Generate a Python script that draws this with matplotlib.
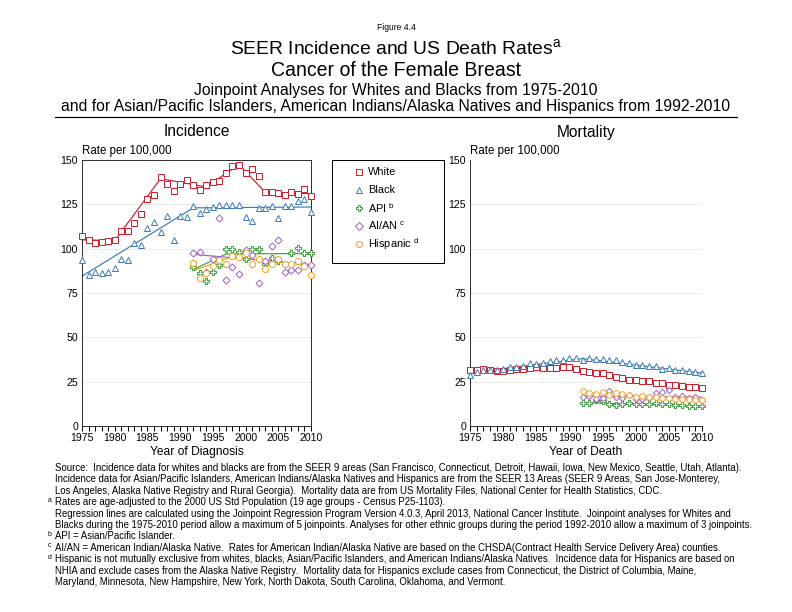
import numpy as np
import matplotlib.pyplot as plt
from matplotlib.lines import Line2D
from matplotlib.patches import Rectangle
from matplotlib.ticker import MultipleLocator

plt.rcParams['font.family'] = ['Liberation Sans', 'DejaVu Sans']
plt.rcParams['mathtext.fontset'] = 'custom'
plt.rcParams['mathtext.rm'] = 'Liberation Sans'
plt.rcParams['mathtext.it'] = 'Liberation Sans'

# years
years_all = np.arange(1975, 2011)
years_eth = np.arange(1992, 2011)

# incidence rates per 100,000
inc_white = [107.0, 104.7, 103.2, 103.8, 104.3, 104.7, 109.8, 110.0, 114.5, 119.6,
             127.8, 130.3, 140.4, 136.5, 132.4, 136.5, 138.5, 136.0, 133.3, 135.9,
             137.4, 138.2, 142.6, 146.6, 147.1, 142.6, 144.9, 141.2, 131.9, 131.9,
             131.4, 130.4, 131.8, 131.0, 133.5, 129.9]
inc_black = [93.5, 85.4, 87.0, 86.0, 86.9, 89.3, 94.2, 93.4, 103.4, 102.1,
             111.8, 115.0, 109.6, 118.5, 105.1, 118.5, 117.7, 124.0, 120.2, 122.5,
             123.3, 124.6, 124.8, 124.8, 124.8, 117.6, 115.6, 123.1, 123.1, 124.1,
             117.3, 124.2, 124.2, 127.0, 128.2, 120.6]
inc_api = [89.7, 86.3, 81.8, 86.9, 90.8, 100.0, 99.7, 98.3, 94.2, 100.0,
           99.7, 91.6, 95.0, 93.1, 91.6, 97.8, 100.6, 97.6, 97.6]
inc_aian = [97.8, 98.2, 86.9, 94.4, 117.3, 82.6, 89.7, 85.6, 99.5, 96.3,
            80.5, 93.1, 101.4, 104.7, 86.9, 88.2, 88.2, 91.0, 91.0]
inc_hisp = [92.1, 83.5, 86.5, 90.3, 93.5, 91.6, 95.7, 95.3, 97.6, 91.6,
            94.4, 88.4, 91.6, 94.4, 91.6, 91.6, 93.1, 90.3, 85.4]

# mortality rates per 100,000
mort_white = [31.5, 31.4, 32.3, 31.8, 30.8, 31.2, 31.8, 32.0, 32.1, 32.7,
              33.0, 32.8, 32.7, 32.8, 33.2, 33.0, 32.4, 31.2, 30.7, 30.1,
              29.8, 28.8, 27.5, 26.9, 25.8, 26.2, 25.3, 25.1, 24.4, 24.0,
              23.4, 23.1, 22.4, 22.1, 21.9, 21.2]
mort_black = [29.0, 30.2, 31.5, 31.7, 31.5, 31.9, 33.2, 33.3, 33.7, 35.8,
              34.9, 35.4, 36.7, 37.4, 37.0, 38.3, 38.3, 37.3, 38.2, 37.8,
              38.0, 37.0, 37.5, 35.9, 35.8, 34.4, 34.5, 34.1, 34.0, 32.3,
              32.7, 31.7, 31.5, 30.8, 30.2, 29.7]
mort_api = [12.8, 12.7, 14.6, 14.2, 12.5, 11.8, 12.3, 12.9, 12.5, 12.3,
            12.6, 12.8, 12.4, 12.2, 12.1, 11.9, 11.4, 11.3, 11.4]
mort_aian = [16.5, 17.0, 15.2, 15.8, 19.8, 16.5, 16.0, 17.6, 15.5, 15.5,
             15.8, 18.8, 19.3, 20.2, 16.2, 17.0, 15.8, 16.2, 14.9]
mort_hisp = [19.5, 18.6, 18.0, 19.2, 17.6, 18.5, 18.3, 17.3, 16.6, 16.8,
             16.2, 16.5, 15.9, 15.6, 15.2, 15.4, 15.2, 14.8, 14.6]

# joinpoint regression lines (joinpoint years, fitted values)
jp_inc_white = ([1975, 1980, 1987, 1994, 1999, 2003, 2010], [105.0, 104.5, 139.5, 134.8, 147.5, 131.8, 131.0])
jp_inc_black = ([1975, 1992, 2010], [84.5, 123.0, 123.5])
jp_inc_api = ([1992, 1997, 2010], [88.2, 97.0, 97.3])
jp_inc_aian = ([1992, 2010], [96.8, 91.0])
jp_inc_hisp = ([1992, 1998, 2010], [87.5, 95.5, 90.5])

jp_mort_white = ([1975, 1990, 1995, 1998, 2010], [31.3, 33.2, 30.0, 27.3, 21.4])
jp_mort_black = ([1975, 1992, 2010], [30.0, 38.0, 29.8])
jp_mort_api = ([1992, 2010], [13.2, 11.3])
jp_mort_aian = ([1992, 2010], [16.8, 16.3])
jp_mort_hisp = ([1992, 2010], [19.0, 14.7])

groups = ['White', 'Black', 'API $^{b}$', 'AI/AN $^{c}$', 'Hispanic $^{d}$']
colors = ['#D21F2B', '#3E7BB6', '#3FA03F', '#A064C4', '#F2A32A']
markers = ['s', '^', 'P', 'D', 'o']

W, H = 792, 612
fig = plt.figure(figsize=(11, 8.5), dpi=72)


def fx(px):
    return px / W


def fy(py):
    return 1 - py / H


ax1 = fig.add_axes([fx(82), fy(426), 229 / W, 266 / H])
ax2 = fig.add_axes([fx(470), fy(426), 232 / W, 266 / H])


def draw_panel(ax, series, lines, msize):
    for i, (x, y) in enumerate(series):
        ms = msize * 0.8 if markers[i] == 'D' else msize
        ax.plot(x, y, linestyle='none', marker=markers[i], markersize=ms, clip_on=False,
                markerfacecolor='white', markeredgecolor=colors[i], markeredgewidth=1.0, zorder=3)
    for i, (lx, ly) in enumerate(lines):
        ax.plot(lx, ly, color=colors[i], linewidth=1.2, zorder=2)
    ax.set_xlim(1975, 2010)
    ax.set_ylim(0, 150)
    ax.xaxis.set_major_locator(MultipleLocator(5))
    ax.xaxis.set_minor_locator(MultipleLocator(1))
    ax.yaxis.set_major_locator(MultipleLocator(25))
    ax.tick_params(axis='x', which='both', direction='out', length=5, width=1, labelsize=10.5, pad=2)
    ax.tick_params(axis='y', length=0, labelsize=10.5, pad=4)
    for v in [25, 50, 75, 100, 125]:
        ax.axhline(v, color='#E6E6E6', linewidth=0.8, zorder=0)
    ax.text(0, 1.01, 'Rate per 100,000', transform=ax.transAxes, fontsize=11.5, va='bottom')


draw_panel(ax1,
           [(years_all, inc_white), (years_all, inc_black), (years_eth, inc_api),
            (years_eth, inc_aian), (years_eth, inc_hisp)],
           [jp_inc_white, jp_inc_black, jp_inc_api, jp_inc_aian, jp_inc_hisp], 6.2)
draw_panel(ax2,
           [(years_all, mort_white), (years_all, mort_black), (years_eth, mort_api),
            (years_eth, mort_aian), (years_eth, mort_hisp)],
           [jp_mort_white, jp_mort_black, jp_mort_api, jp_mort_aian, jp_mort_hisp], 5.6)
ax2.spines['top'].set_visible(False)
ax2.spines['right'].set_visible(False)

ax1.set_xlabel('Year of Diagnosis', fontsize=12, labelpad=3)
ax2.set_xlabel('Year of Death', fontsize=12, labelpad=3)

# titles
fig.text(0.5, fy(27), 'Figure 4.4', ha='center', va='center', fontsize=8.5)
fig.text(0.5, fy(48), 'SEER Incidence and US Death Rates$^{a}$', ha='center', va='center', fontsize=19.3)
fig.text(0.5, fy(70), 'Cancer of the Female Breast', ha='center', va='center', fontsize=19.5)
fig.text(0.5, fy(90), 'Joinpoint Analyses for Whites and Blacks from 1975-2010', ha='center', va='center', fontsize=15.8)
fig.text(0.5, fy(107), 'and for Asian/Pacific Islanders, American Indians/Alaska Natives and Hispanics from 1992-2010',
         ha='center', va='center', fontsize=15.8)
fig.add_artist(Line2D([fx(55), fx(737)], [fy(117), fy(117)], color='black', linewidth=1.2))
fig.text(fx(196.5), fy(132), 'Incidence', ha='center', va='center', fontsize=15.5)
fig.text(fx(586), fy(132), 'Mortality', ha='center', va='center', fontsize=15.5)

# legend (box with marker rows)
fig.add_artist(Rectangle((fx(332), fy(263)), 112 / W, 103 / H, fill=False, edgecolor='black', linewidth=1.0))
leg_rows = [172, 190, 208, 226, 244]
for i, lab in enumerate(groups):
    ms = 5 if markers[i] == 'D' else 6
    fig.add_artist(Line2D([fx(359)], [fy(leg_rows[i])], linestyle='none', marker=markers[i], markersize=ms,
                          markerfacecolor='white', markeredgecolor=colors[i], markeredgewidth=1.0))
    fig.text(fx(368), fy(leg_rows[i]), lab, fontsize=11, va='center')

# footnotes
notes = [
    ('', 'Source:  Incidence data for whites and blacks are from the SEER 9 areas (San Francisco, Connecticut, Detroit, Hawaii, Iowa, New Mexico, Seattle, Utah, Atlanta).'),
    ('', 'Incidence data for Asian/Pacific Islanders, American Indians/Alaska Natives and Hispanics are from the SEER 13 Areas (SEER 9 Areas, San Jose-Monterey,'),
    ('', 'Los Angeles, Alaska Native Registry and Rural Georgia).  Mortality data are from US Mortality Files, National Center for Health Statistics, CDC.'),
    ('a', 'Rates are age-adjusted to the 2000 US Std Population (19 age groups - Census P25-1103).'),
    ('', 'Regression lines are calculated using the Joinpoint Regression Program Version 4.0.3, April 2013, National Cancer Institute.  Joinpoint analyses for Whites and'),
    ('', 'Blacks during the 1975-2010 period allow a maximum of 5 joinpoints. Analyses for other ethnic groups during the period 1992-2010 allow a maximum of 3 joinpoints.'),
    ('b', 'API = Asian/Pacific Islander.'),
    ('c', 'AI/AN = American Indian/Alaska Native.  Rates for American Indian/Alaska Native are based on the CHSDA(Contract Health Service Delivery Area) counties.'),
    ('d', 'Hispanic is not mutually exclusive from whites, blacks, Asian/Pacific Islanders, and American Indians/Alaska Natives.  Incidence data for Hispanics are based on'),
    ('', 'NHIA and exclude cases from the Alaska Native Registry.  Mortality data for Hispanics exclude cases from Connecticut, the District of Columbia, Maine,'),
    ('', 'Maryland, Minnesota, New Hampshire, New York, North Dakota, South Carolina, Oklahoma, and Vermont.'),
]
for k, (sup, txt) in enumerate(notes):
    yy = 468 + k * 11.4
    if sup:
        fig.text(fx(48), fy(yy - 2), sup, fontsize=7, va='center')
    fig.text(fx(55), fy(yy), txt, fontsize=9.6, va='center')

fig.savefig('out.png', dpi=72)
